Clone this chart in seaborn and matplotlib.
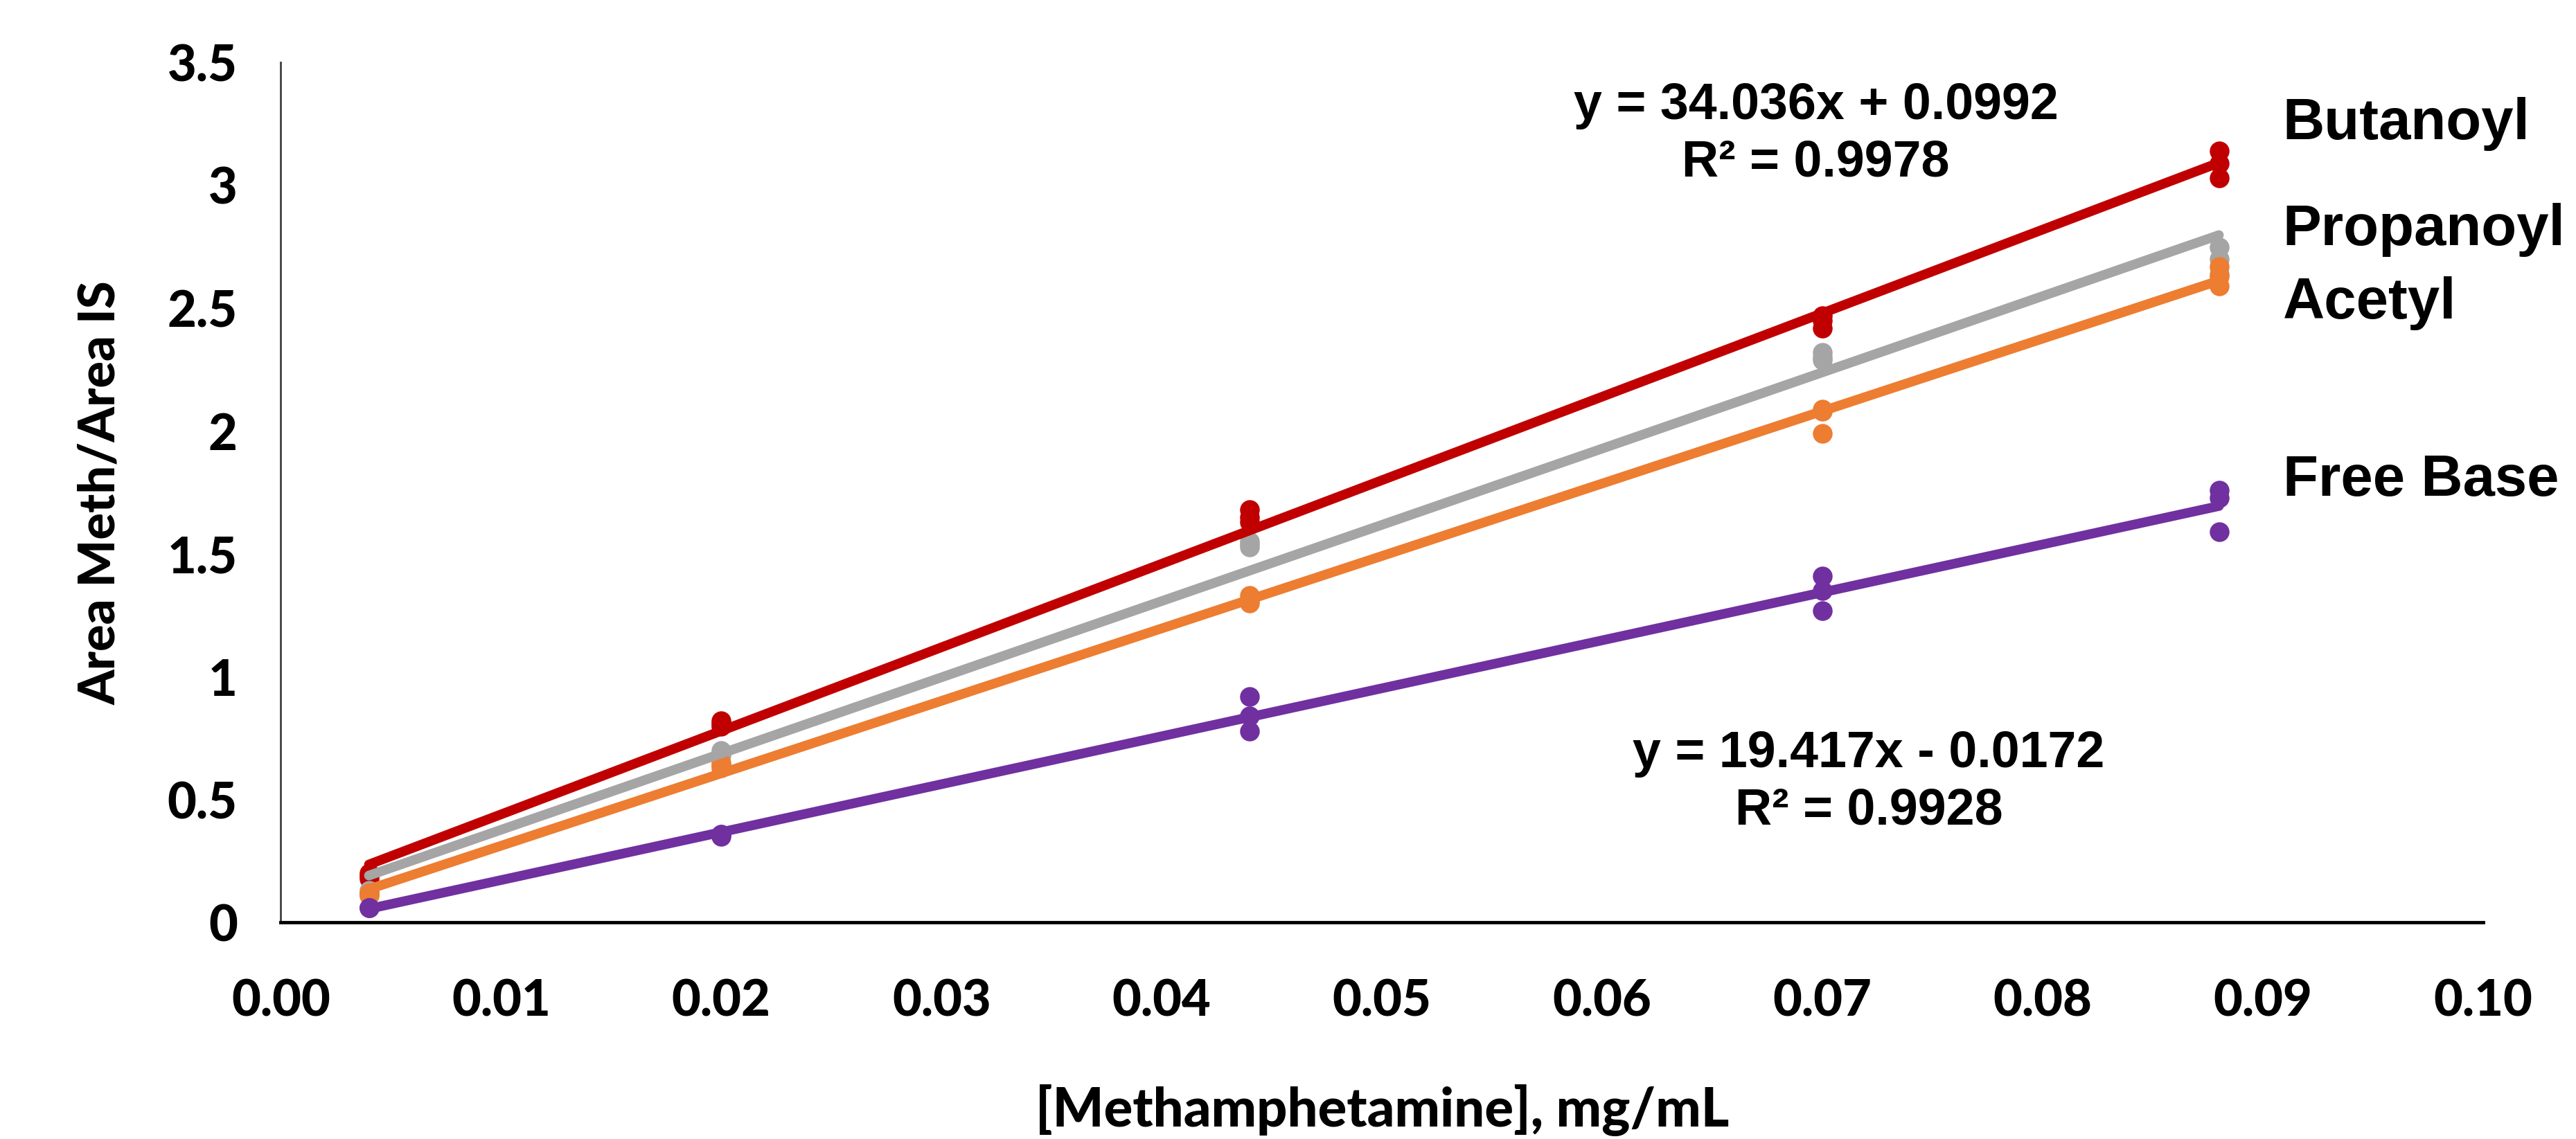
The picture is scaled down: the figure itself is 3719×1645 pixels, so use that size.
import numpy as np
import pandas as pd
import matplotlib.pyplot as plt
import seaborn as sns

# concentration levels (mg/mL), three replicates each
conc = [0.004, 0.02, 0.044, 0.07, 0.088]

butanoyl = [[0.18, 0.19, 0.20], [0.80, 0.81, 0.82], [1.68, 1.65, 1.63],
            [2.47, 2.45, 2.42], [3.14, 3.09, 3.03]]
propanoyl = [[0.12, 0.13, 0.11], [0.69, 0.70, 0.68], [1.55, 1.54, 1.53],
             [2.32, 2.30, 2.29], [2.75, 2.70, 2.64]]
acetyl = [[0.11, 0.12, 0.12], [0.64, 0.65, 0.63], [1.33, 1.31, 1.30],
          [2.09, 2.08, 1.99], [2.67, 2.63, 2.59]]
free_base = [[0.06, 0.06, 0.06], [0.36, 0.36, 0.35], [0.92, 0.84, 0.78],
             [1.41, 1.35, 1.27], [1.76, 1.73, 1.59]]

series = ['Butanoyl', 'Propanoyl', 'Acetyl', 'Free Base']
values = [butanoyl, propanoyl, acetyl, free_base]
colors = ['#C00000', '#A5A5A5', '#ED7D31', '#7030A0']

# series name label position (data coords)
label_y = [3.25, 2.82, 2.52, 1.80]

eq_top = 'y = 34.036x + 0.0992\nR² = 0.9978'
eq_bottom = 'y = 19.417x - 0.0172\nR² = 0.9928'

rows = []
for name, vals in zip(series, values):
    for c, reps in zip(conc, vals):
        for v in reps:
            rows.append({'Series': name, 'Conc': c, 'Ratio': v})
df = pd.DataFrame(rows)

sns.set_style('white')
plt.rcParams['font.family'] = ['Lato', 'DejaVu Sans']
plt.rcParams['text.color'] = 'black'

fig = plt.figure(figsize=(37.19, 16.45), dpi=100)
ax = fig.add_axes([0.109, 0.19, 0.855, 0.755])

for name, col in zip(series, colors):
    sub = df[df['Series'] == name]
    sns.regplot(data=sub, x='Conc', y='Ratio', ci=None, color=col, ax=ax,
                scatter_kws=dict(s=420, linewidths=0, alpha=1),
                line_kws=dict(lw=10, solid_capstyle='round'))

ax.set_xlim(0, 0.10)
ax.set_ylim(0, 3.5)
ax.set_xticks(np.arange(0, 0.1001, 0.01))
ax.set_xticklabels([f'{t:.2f}' for t in np.arange(0, 0.1001, 0.01)])
ax.set_yticks(np.arange(0, 3.51, 0.5))
ax.set_yticklabels(['0', '0.5', '1', '1.5', '2', '2.5', '3', '3.5'])
ax.tick_params(axis='x', length=0, pad=58, labelsize=52, labelcolor='black')
ax.tick_params(axis='y', length=0, pad=45, labelsize=52, labelcolor='black')
for lab in ax.get_xticklabels() + ax.get_yticklabels():
    lab.set_fontweight('black')

ax.set_xlabel('[Methamphetamine], mg/mL', fontsize=56, fontweight='black',
              color='black', labelpad=62)
ax.set_ylabel('Area Meth/Area IS', fontsize=52, fontweight='black',
              color='black', labelpad=45)

sns.despine(ax=ax)
ax.spines['left'].set_linewidth(2)
ax.spines['left'].set_color('#404040')
ax.spines['bottom'].set_linewidth(3.5)
ax.spines['bottom'].set_color('black')

for name, y in zip(series, label_y):
    ax.text(0.0909, y, name, fontsize=60, fontweight='bold', color='black',
            family=['Liberation Sans'], ha='left', va='center', clip_on=False)

ax.text(0.0697, 3.21, eq_top, fontsize=53, fontweight='bold', color='black',
        family=['Liberation Sans'], ha='center', va='center', linespacing=1.25)
ax.text(0.0721, 0.57, eq_bottom, fontsize=53, fontweight='bold', color='black',
        family=['Liberation Sans'], ha='center', va='center', linespacing=1.25)

fig.savefig('out.png', dpi=100, facecolor='white')
